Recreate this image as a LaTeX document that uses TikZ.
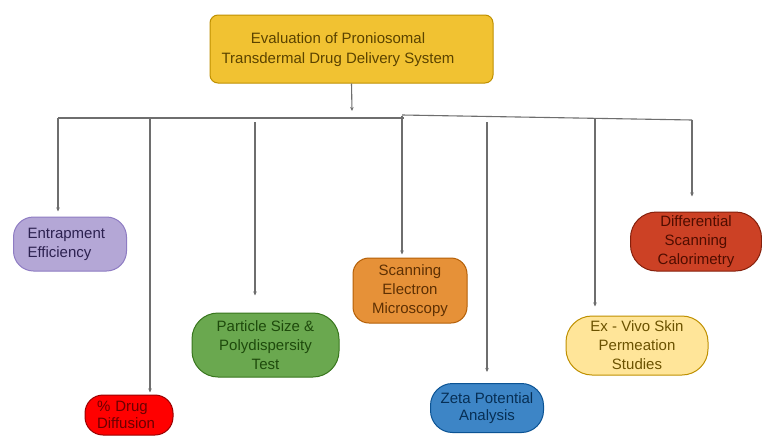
\documentclass[tikz,border=0pt]{standalone}
\usepackage{fontspec}
\setmainfont{Liberation Sans}
\usetikzlibrary{arrows.meta}
\definecolor{linegray}{HTML}{6E6E6E}
\definecolor{goldfill}{HTML}{F1C232}
\definecolor{golddraw}{HTML}{BF9000}
\definecolor{goldtext}{HTML}{5B4300}
\definecolor{lavfill}{HTML}{B4A7D6}
\definecolor{lavdraw}{HTML}{8E7CC3}
\definecolor{lavtext}{HTML}{2C2150}
\definecolor{redfill}{HTML}{FF0000}
\definecolor{reddraw}{HTML}{990000}
\definecolor{redtext}{HTML}{6B0000}
\definecolor{grnfill}{HTML}{6AA84F}
\definecolor{grndraw}{HTML}{38761D}
\definecolor{grntext}{HTML}{1E4A0C}
\definecolor{orgfill}{HTML}{E69138}
\definecolor{orgdraw}{HTML}{B45F06}
\definecolor{orgtext}{HTML}{5E3003}
\definecolor{blufill}{HTML}{3D85C6}
\definecolor{bludraw}{HTML}{0B5394}
\definecolor{blutext}{HTML}{072F55}
\definecolor{ylwfill}{HTML}{FFE599}
\definecolor{ylwdraw}{HTML}{BF9000}
\definecolor{ylwtext}{HTML}{6B5200}
\definecolor{dscfill}{HTML}{CC4125}
\definecolor{dscdraw}{HTML}{85200C}
\definecolor{dsctext}{HTML}{4F0D00}
\begin{document}
\begin{tikzpicture}[x=1pt,y=-1pt,
  pill/.style={draw, line width=1pt, inner sep=0pt, align=center,
    font=\fontsize{15}{19}\selectfont},
  tight/.style={font=\fontsize{15}{16.5}\selectfont},
  busline/.style={draw=linegray, line width=1.1pt},
  conn/.style={draw=linegray, line width=1.1pt, -{Stealth[length=4pt,width=3.5pt]}}]
\useasboundingbox (0,0) rectangle (762,439);
\fill[white] (0,0) rectangle (762,439);

% title
\node[draw=golddraw, fill=goldfill, line width=1pt, rounded corners=8pt,
  minimum width=283pt, minimum height=68pt, inner sep=0pt] (title) at (351.5,49) {};
\node[align=center, text=goldtext, inner sep=0pt, font=\fontsize{15}{20}\selectfont]
  (titletext) at (338,50) {Evaluation of Proniosomal\\Transdermal Drug Delivery System};

% boxes
\node[pill, draw=lavdraw, fill=lavfill, text=lavtext, rounded corners=20pt,
  minimum width=113pt, minimum height=54pt, align=left, text width=85pt] (entr) at (70,244)
  {Entrapment\\Efficiency};
\node[pill, tight, draw=reddraw, fill=redfill, text=redtext, rounded corners=18pt,
  minimum width=88pt, minimum height=40pt, align=left, text width=64pt] (drug) at (129,415)
  {\% Drug\\Diffusion};
\node[pill, draw=grndraw, fill=grnfill, text=grntext, rounded corners=26pt,
  minimum width=147pt, minimum height=64pt] (part) at (265.5,345)
  {Particle Size \&\\Polydispersity\\Test};
\node[pill, draw=orgdraw, fill=orgfill, text=orgtext, rounded corners=16pt,
  minimum width=114pt, minimum height=65pt] (sem) at (410,290.5)
  {Scanning\\Electron\\Microscopy};
\node[pill, tight, draw=bludraw, fill=blufill, text=blutext, rounded corners=22pt,
  minimum width=113pt, minimum height=49pt] (zeta) at (487,408)
  {Zeta Potential\\Analysis};
\node[pill, draw=ylwdraw, fill=ylwfill, text=ylwtext, rounded corners=26pt,
  minimum width=142pt, minimum height=59pt] (exv) at (637,345.5)
  {Ex - Vivo Skin\\Permeation\\Studies};
\node[pill, draw=dscdraw, fill=dscfill, text=dsctext, rounded corners=26pt,
  minimum width=131pt, minimum height=59pt] (dsc) at (696,241.5)
  {Differential\\Scanning\\Calorimetry};

% bus
\coordinate (top) at (352,111);
\coordinate (bL) at (58,118);
\coordinate (bM) at (404,118);
\coordinate (bM2) at (402,115);
\coordinate (bR) at (692,120);
\coordinate (dT) at (150,118);
\coordinate (pT) at (255,122);
\coordinate (sT) at (402,116);
\coordinate (zT) at (487,122);
\coordinate (eT) at (595,119);

\draw[conn] (title.south) -- (top);
\draw[busline] (bL) -- (bM);
\draw[busline] (bM2) -- (bR);

\draw[conn, shorten >=5pt] (bL) -- (bL |- entr.north);
\draw[conn, shorten >=2pt] (dT) -- (dT |- drug.north);
\draw[conn, shorten >=17pt] (pT) -- (pT |- part.north);
\draw[conn, shorten >=3pt] (sT) -- (sT |- sem.north);
\draw[conn, shorten >=11pt] (zT) -- (zT |- zeta.north);
\draw[conn, shorten >=9pt] (eT) -- (eT |- exv.north);
\draw[conn, shorten >=15pt] (bR) -- (bR |- dsc.north);
\end{tikzpicture}
\end{document}
